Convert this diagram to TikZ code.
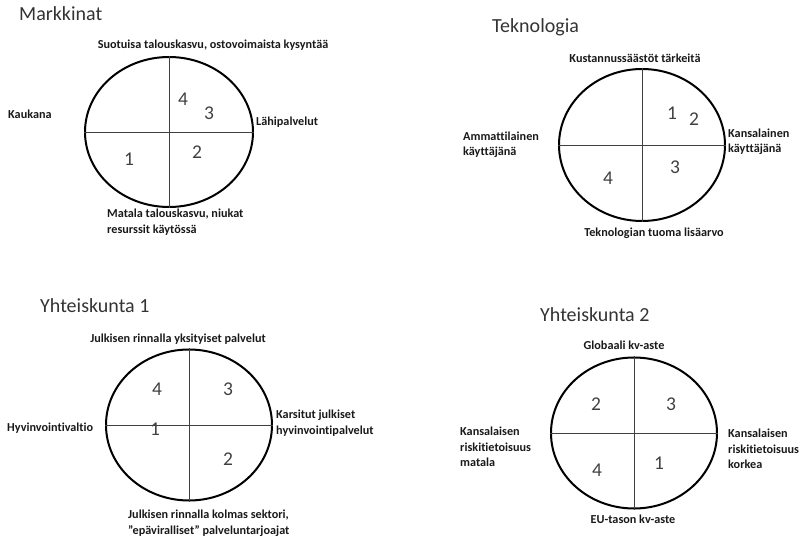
\documentclass[tikz,border=0pt]{standalone}
\usepackage{fontspec}
\setmainfont{Carlito}[Ligatures=NoCommon]
\usetikzlibrary{shapes.geometric}

\begin{document}
\begin{tikzpicture}[x=1pt, y=-1pt,
	field/.style={draw, ellipse, line width=2pt, inner sep=0pt},
	axis/.style={black!75, line width=0.8pt},
	title/.style={anchor=west, inner sep=0pt, text=black!80, font=\fontsize{20}{24}\selectfont},
	pole/.style={inner sep=0pt, align=left, text=black!90, font=\fontsize{12.2}{15.5}\selectfont\bfseries},
	num/.style={inner sep=0pt, text=black!75, font=\fontsize{19.5}{22}\selectfont}]
	\useasboundingbox (0,0) rectangle (804,540);
	%
	% Markkinat
	\node [title] (mktitle) at (19,14) {Markkinat};
	\node [field, minimum width=168pt, minimum height=150pt] (mk) at (169,132) {};
	\draw [axis] (mk.west) -- (mk.east);
	\draw [axis] (mk.north) -- (mk.south);
	\node [pole] (mktop) at (213,45) {Suotuisa talouskasvu, ostovoimaista kysyntää};
	\node [pole, anchor=west] (mkleft) at (8,114) {Kaukana};
	\node [pole, anchor=west] (mkright) at (256,122) {Lähipalvelut};
	\node [pole, anchor=west] (mkbottom) at (107,222) {Matala talouskasvu, niukat\\resurssit käytössä};
	\node [num] (mk4) at (183,99) {4};
	\node [num] (mk3) at (209,113) {3};
	\node [num] (mk1) at (129,159) {1};
	\node [num] (mk2) at (197,152) {2};
	%
	% Teknologia
	\node [title] (tktitle) at (492,27) {Teknologia};
	\node [field, minimum width=166pt, minimum height=152pt] (tk) at (642,145) {};
	\draw [axis] (tk.west) -- (tk.east);
	\draw [axis] (tk.north) -- (tk.south);
	\node [pole] (tktop) at (635,58) {Kustannussäästöt tärkeitä};
	\node [pole, anchor=west] (tkleft) at (463,145) {Ammattilainen\\käyttäjänä};
	\node [pole, anchor=west] (tkright) at (728,142) {Kansalainen\\käyttäjänä};
	\node [pole] (tkbottom) at (654,233) {Teknologian tuoma lisäarvo};
	\node [num] (tk1) at (672,113) {1};
	\node [num] (tk2) at (694,119) {2};
	\node [num] (tk3) at (675,167) {3};
	\node [num] (tk4) at (608,178) {4};
	%
	% Yhteiskunta 1
	\node [title] (yatitle) at (40,306) {Yhteiskunta 1};
	\node [field, minimum width=166pt, minimum height=151pt] (ya) at (189,425) {};
	\draw [axis] (ya.west) -- (ya.east);
	\draw [axis] (ya.north) -- (ya.south);
	\node [pole] (yatop) at (178,339) {Julkisen rinnalla yksityiset palvelut};
	\node [pole, anchor=west] (yaleft) at (7,428) {Hyvinvointivaltio};
	\node [pole, anchor=west] (yaright) at (276,423) {Karsitut julkiset\\hyvinvointipalvelut};
	\node [pole, anchor=west] (yabottom) at (128,523) {Julkisen rinnalla kolmas sektori,\\”epäviralliset” palveluntarjoajat};
	\node [num] (ya4) at (157,389) {4};
	\node [num] (ya3) at (228,389) {3};
	\node [num] (ya1) at (155,429) {1};
	\node [num] (ya2) at (228,459) {2};
	%
	% Yhteiskunta 2
	\node [title] (ybtitle) at (540,315) {Yhteiskunta 2};
	\node [field, minimum width=166pt, minimum height=151pt] (yb) at (634,433) {};
	\draw [axis] (yb.west) -- (yb.east);
	\draw [axis] (yb.north) -- (yb.south);
	\node [pole] (ybtop) at (624,345) {Globaali kv-aste};
	\node [pole] (ybbottom) at (633,519) {EU-tason kv-aste};
	\node [pole, anchor=west] (ybleft) at (460,447) {Kansalaisen\\riskitietoisuus\\matala};
	\node [pole, anchor=west] (ybright) at (728,449) {Kansalaisen\\riskitietoisuus\\korkea};
	\node [num] (yb2) at (596,404) {2};
	\node [num] (yb3) at (671,404) {3};
	\node [num] (yb4) at (597,470) {4};
	\node [num] (yb1) at (659,463) {1};
\end{tikzpicture}
\end{document}
